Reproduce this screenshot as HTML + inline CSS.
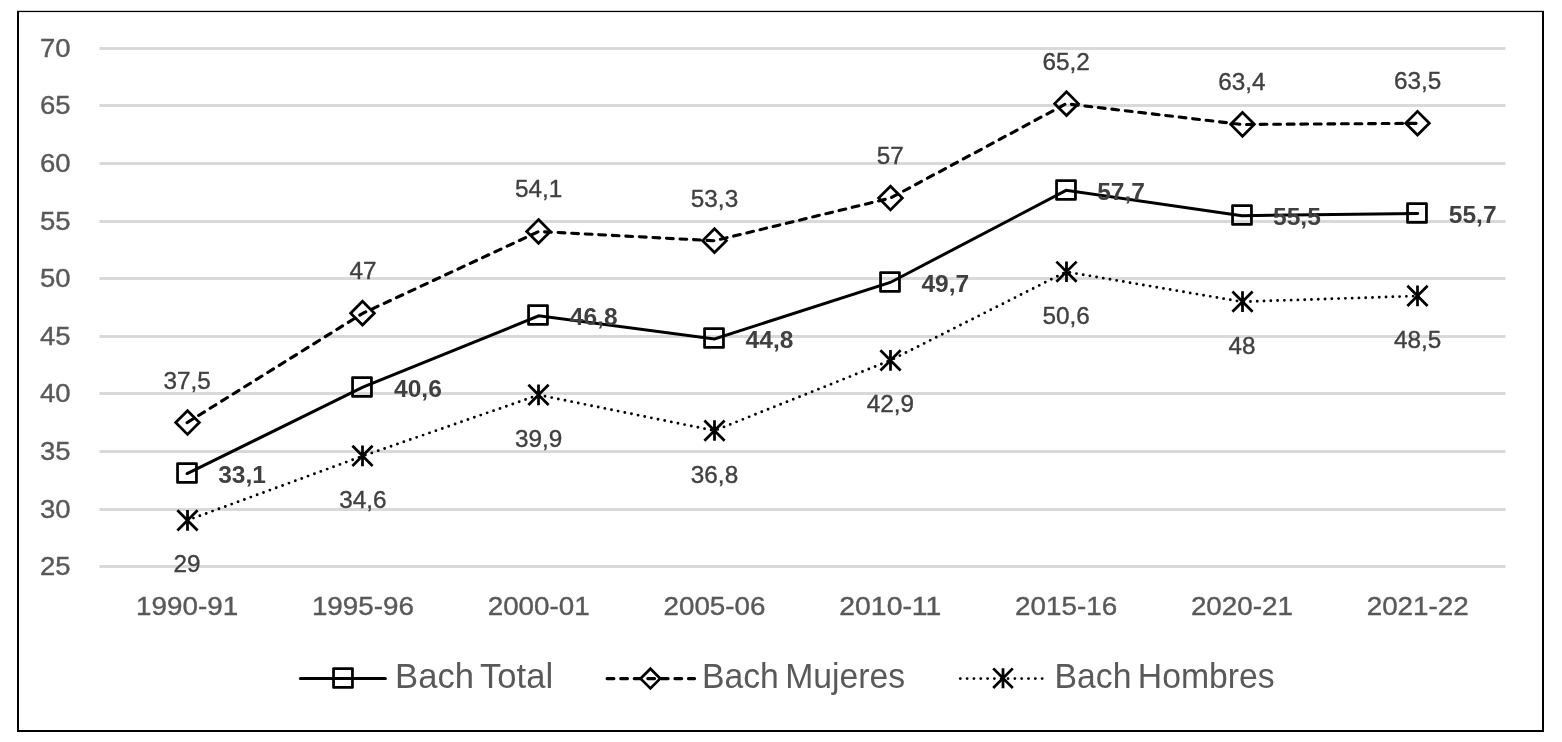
<!DOCTYPE html>
<html lang="es"><head><meta charset="utf-8"><title>Bachillerato</title>
<style>
html,body{margin:0;padding:0;background:#fff;}
body{width:1562px;height:742px;overflow:hidden;}
svg{display:block;}
text{font-family:"Liberation Sans",sans-serif;}
.ax{font-size:26.6px;fill:#595959;stroke:#595959;stroke-width:0.4px;}
.dl{font-size:23.6px;fill:#404040;stroke:#404040;stroke-width:0.35px;}
.db{font-size:24.6px;fill:#404040;font-weight:bold;}
.lg{font-size:34.5px;fill:#595959;word-spacing:-3px;}
.ln{fill:none;stroke:#000;stroke-width:3;stroke-linecap:round;stroke-linejoin:round;}
.mk{fill:none;stroke:#000;stroke-width:2.75;stroke-linejoin:round;}
</style></head><body>
<svg width="1562" height="742" viewBox="0 0 1562 742">
<rect x="0" y="0" width="1562" height="742" fill="#fff"/>
<rect x="17" y="11" width="2" height="721" fill="#000"/>
<rect x="1542" y="11" width="2" height="721" fill="#000"/>
<rect x="17" y="10.8" width="1527" height="1.3" fill="#000"/>
<rect x="17" y="730" width="1527" height="2" fill="#000"/>
<rect x="99.5" y="47" width="1406" height="3" fill="#d9d9d9"/>
<rect x="99.5" y="104" width="1406" height="3" fill="#d9d9d9"/>
<rect x="99.5" y="162" width="1406" height="3" fill="#d9d9d9"/>
<rect x="99.5" y="220" width="1406" height="3" fill="#d9d9d9"/>
<rect x="99.5" y="277" width="1406" height="3" fill="#d9d9d9"/>
<rect x="99.5" y="335" width="1406" height="3" fill="#d9d9d9"/>
<rect x="99.5" y="392" width="1406" height="3" fill="#d9d9d9"/>
<rect x="99.5" y="450" width="1406" height="3" fill="#d9d9d9"/>
<rect x="99.5" y="508" width="1406" height="3" fill="#d9d9d9"/>
<rect x="99.5" y="565" width="1406" height="3" fill="#d9d9d9"/>
<text class="ax" x="70.5" y="57.30" text-anchor="end" textLength="30.6" lengthAdjust="spacingAndGlyphs">70</text>
<text class="ax" x="70.5" y="114.30" text-anchor="end" textLength="30.6" lengthAdjust="spacingAndGlyphs">65</text>
<text class="ax" x="70.5" y="172.30" text-anchor="end" textLength="30.6" lengthAdjust="spacingAndGlyphs">60</text>
<text class="ax" x="70.5" y="230.30" text-anchor="end" textLength="30.6" lengthAdjust="spacingAndGlyphs">55</text>
<text class="ax" x="70.5" y="287.30" text-anchor="end" textLength="30.6" lengthAdjust="spacingAndGlyphs">50</text>
<text class="ax" x="70.5" y="345.30" text-anchor="end" textLength="30.6" lengthAdjust="spacingAndGlyphs">45</text>
<text class="ax" x="70.5" y="402.30" text-anchor="end" textLength="30.6" lengthAdjust="spacingAndGlyphs">40</text>
<text class="ax" x="70.5" y="460.30" text-anchor="end" textLength="30.6" lengthAdjust="spacingAndGlyphs">35</text>
<text class="ax" x="70.5" y="518.30" text-anchor="end" textLength="30.6" lengthAdjust="spacingAndGlyphs">30</text>
<text class="ax" x="70.5" y="575.30" text-anchor="end" textLength="30.6" lengthAdjust="spacingAndGlyphs">25</text>
<text class="ax" x="187.10" y="614.8" text-anchor="middle" textLength="102" lengthAdjust="spacingAndGlyphs">1990-91</text>
<text class="ax" x="362.90" y="614.8" text-anchor="middle" textLength="102" lengthAdjust="spacingAndGlyphs">1995-96</text>
<text class="ax" x="538.70" y="614.8" text-anchor="middle" textLength="102" lengthAdjust="spacingAndGlyphs">2000-01</text>
<text class="ax" x="714.50" y="614.8" text-anchor="middle" textLength="102" lengthAdjust="spacingAndGlyphs">2005-06</text>
<text class="ax" x="890.30" y="614.8" text-anchor="middle" textLength="102" lengthAdjust="spacingAndGlyphs">2010-11</text>
<text class="ax" x="1066.10" y="614.8" text-anchor="middle" textLength="102" lengthAdjust="spacingAndGlyphs">2015-16</text>
<text class="ax" x="1241.90" y="614.8" text-anchor="middle" textLength="102" lengthAdjust="spacingAndGlyphs">2020-21</text>
<text class="ax" x="1417.70" y="614.8" text-anchor="middle" textLength="102" lengthAdjust="spacingAndGlyphs">2021-22</text>
<polyline class="ln" style="stroke-linejoin:miter" transform="translate(0,0.3)" points="187.10,473.26 362.90,386.93 538.70,315.56 714.50,338.58 890.30,282.18 1066.10,190.09 1241.90,215.41 1417.70,213.11"/>
<polyline class="ln" style="stroke-width:3.1;stroke-dasharray:6.8 6.76" points="187.10,422.61 362.90,313.26 538.70,231.53 714.50,240.74 890.30,198.14 1066.10,103.75 1241.90,124.47 1417.70,123.32"/>
<polyline class="ln" style="stroke-width:2.9;stroke-dasharray:0 6.782" points="187.10,520.46 362.90,455.99 538.70,394.98 714.50,430.67 890.30,360.45 1066.10,271.82 1241.90,301.74 1417.70,295.99"/>
<rect class="mk" x="177.55" y="463.55" width="18.9" height="18.9"/>
<rect class="mk" x="352.55" y="377.55" width="18.9" height="18.9"/>
<rect class="mk" x="528.55" y="305.55" width="18.9" height="18.9"/>
<rect class="mk" x="704.55" y="328.55" width="18.9" height="18.9"/>
<rect class="mk" x="880.55" y="272.55" width="18.9" height="18.9"/>
<rect class="mk" x="1056.55" y="180.55" width="18.9" height="18.9"/>
<rect class="mk" x="1232.55" y="205.55" width="18.9" height="18.9"/>
<rect class="mk" x="1407.55" y="203.55" width="18.9" height="18.9"/>
<path class="mk" style="stroke-linejoin:miter" d="M187.50 410.66L199.35 422.51L187.50 434.36L175.65 422.51Z"/>
<path class="mk" style="stroke-linejoin:miter" d="M362.50 301.31L374.35 313.16L362.50 325.01L350.65 313.16Z"/>
<path class="mk" style="stroke-linejoin:miter" d="M538.50 219.58L550.35 231.43L538.50 243.28L526.65 231.43Z"/>
<path class="mk" style="stroke-linejoin:miter" d="M714.50 228.79L726.35 240.64L714.50 252.49L702.65 240.64Z"/>
<path class="mk" style="stroke-linejoin:miter" d="M890.50 186.19L902.35 198.04L890.50 209.89L878.65 198.04Z"/>
<path class="mk" style="stroke-linejoin:miter" d="M1066.50 91.80L1078.35 103.65L1066.50 115.50L1054.65 103.65Z"/>
<path class="mk" style="stroke-linejoin:miter" d="M1242.50 112.52L1254.35 124.37L1242.50 136.22L1230.65 124.37Z"/>
<path class="mk" style="stroke-linejoin:miter" d="M1417.50 111.37L1429.35 123.22L1417.50 135.07L1405.65 123.22Z"/>
<path class="mk" style="stroke-width:2.75" d="M177.40 510.26L197.60 530.46M177.40 530.46L197.60 510.26M187.50 510.06L187.50 530.66"/>
<path class="mk" style="stroke-width:2.75" d="M352.40 445.79L372.60 465.99M352.40 465.99L372.60 445.79M362.50 445.59L362.50 466.19"/>
<path class="mk" style="stroke-width:2.75" d="M528.40 384.78L548.60 404.98M528.40 404.98L548.60 384.78M538.50 384.58L538.50 405.18"/>
<path class="mk" style="stroke-width:2.75" d="M704.40 420.47L724.60 440.67M704.40 440.67L724.60 420.47M714.50 420.27L714.50 440.87"/>
<path class="mk" style="stroke-width:2.75" d="M880.40 350.25L900.60 370.45M880.40 370.45L900.60 350.25M890.50 350.05L890.50 370.65"/>
<path class="mk" style="stroke-width:2.75" d="M1056.40 261.62L1076.60 281.82M1056.40 281.82L1076.60 261.62M1066.50 261.42L1066.50 282.02"/>
<path class="mk" style="stroke-width:2.75" d="M1232.40 291.54L1252.60 311.74M1232.40 311.74L1252.60 291.54M1242.50 291.34L1242.50 311.94"/>
<path class="mk" style="stroke-width:2.75" d="M1407.40 285.79L1427.60 305.99M1407.40 305.99L1427.60 285.79M1417.50 285.59L1417.50 306.19"/>
<text class="dl" x="187.10" y="388.80" text-anchor="middle" textLength="47.3" lengthAdjust="spacingAndGlyphs">37,5</text>
<text class="dl" x="362.90" y="278.80" text-anchor="middle" textLength="27.0" lengthAdjust="spacingAndGlyphs">47</text>
<text class="dl" x="538.70" y="196.80" text-anchor="middle" textLength="47.3" lengthAdjust="spacingAndGlyphs">54,1</text>
<text class="dl" x="714.50" y="206.80" text-anchor="middle" textLength="47.3" lengthAdjust="spacingAndGlyphs">53,3</text>
<text class="dl" x="890.30" y="163.80" text-anchor="middle" textLength="27.0" lengthAdjust="spacingAndGlyphs">57</text>
<text class="dl" x="1066.10" y="69.80" text-anchor="middle" textLength="47.3" lengthAdjust="spacingAndGlyphs">65,2</text>
<text class="dl" x="1241.90" y="89.80" text-anchor="middle" textLength="47.3" lengthAdjust="spacingAndGlyphs">63,4</text>
<text class="dl" x="1417.70" y="88.80" text-anchor="middle" textLength="47.3" lengthAdjust="spacingAndGlyphs">63,5</text>
<text class="dl" x="187.10" y="572.00" text-anchor="middle" textLength="27.0" lengthAdjust="spacingAndGlyphs">29</text>
<text class="dl" x="362.90" y="508.00" text-anchor="middle" textLength="47.3" lengthAdjust="spacingAndGlyphs">34,6</text>
<text class="dl" x="538.70" y="447.00" text-anchor="middle" textLength="47.3" lengthAdjust="spacingAndGlyphs">39,9</text>
<text class="dl" x="714.50" y="483.00" text-anchor="middle" textLength="47.3" lengthAdjust="spacingAndGlyphs">36,8</text>
<text class="dl" x="890.30" y="412.00" text-anchor="middle" textLength="47.3" lengthAdjust="spacingAndGlyphs">42,9</text>
<text class="dl" x="1066.10" y="324.00" text-anchor="middle" textLength="47.3" lengthAdjust="spacingAndGlyphs">50,6</text>
<text class="dl" x="1241.90" y="354.00" text-anchor="middle" textLength="27.0" lengthAdjust="spacingAndGlyphs">48</text>
<text class="dl" x="1417.70" y="348.00" text-anchor="middle" textLength="47.3" lengthAdjust="spacingAndGlyphs">48,5</text>
<text class="db" x="218.20" y="482.95" textLength="47.8" lengthAdjust="spacingAndGlyphs">33,1</text>
<text class="db" x="394.00" y="396.95" textLength="47.8" lengthAdjust="spacingAndGlyphs">40,6</text>
<text class="db" x="569.80" y="324.95" textLength="47.8" lengthAdjust="spacingAndGlyphs">46,8</text>
<text class="db" x="745.60" y="347.95" textLength="47.8" lengthAdjust="spacingAndGlyphs">44,8</text>
<text class="db" x="921.40" y="291.95" textLength="47.8" lengthAdjust="spacingAndGlyphs">49,7</text>
<text class="db" x="1097.20" y="199.95" textLength="47.8" lengthAdjust="spacingAndGlyphs">57,7</text>
<text class="db" x="1273.00" y="224.95" textLength="47.8" lengthAdjust="spacingAndGlyphs">55,5</text>
<text class="db" x="1448.80" y="222.95" textLength="47.8" lengthAdjust="spacingAndGlyphs">55,7</text>
<line class="ln" x1="300.4" y1="678.6" x2="385.4" y2="678.6"/>
<rect class="mk" x="333.55" y="668.55" width="18.9" height="18.9"/>
<text class="lg" x="395.1" y="687.8" textLength="158" lengthAdjust="spacingAndGlyphs">Bach Total</text>
<line class="ln" style="stroke-width:3.1;stroke-dasharray:6.8 6.76" x1="607.1" y1="678.6" x2="694.6" y2="678.6"/>
<path class="mk" style="stroke-linejoin:miter" d="M650.40 668.80L660.20 678.60L650.40 688.40L640.60 678.60Z"/>
<text class="lg" x="702" y="687.8" textLength="203" lengthAdjust="spacingAndGlyphs">Bach Mujeres</text>
<line class="ln" style="stroke-width:2.9;stroke-dasharray:0 6.82" x1="960.3" y1="678.6" x2="1043" y2="678.6"/>
<path class="mk" style="stroke-width:2.75" d="M993.20 668.40L1012.80 688.00M993.20 688.00L1012.80 668.40M1003.00 668.20L1003.00 688.20"/>
<text class="lg" x="1054.5" y="687.8" textLength="220.2" lengthAdjust="spacingAndGlyphs">Bach Hombres</text>
</svg></body></html>
